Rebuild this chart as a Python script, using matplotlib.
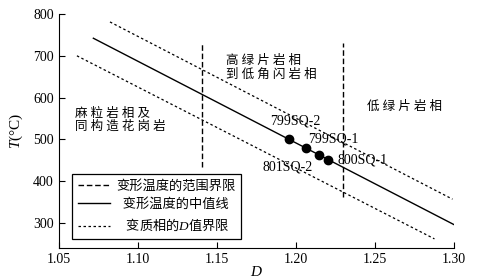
import matplotlib
matplotlib.use("Agg")
import matplotlib.pyplot as plt

plt.rcParams['font.family'] = ['Liberation Serif', 'Noto Sans CJK SC']
plt.rcParams['mathtext.fontset'] = 'custom'
plt.rcParams['mathtext.rm'] = 'Noto Sans CJK SC'
plt.rcParams['mathtext.it'] = 'Liberation Serif:italic'
plt.rcParams['mathtext.sf'] = 'Liberation Serif'

# lines (D, T)
median_D = [1.072, 1.300]
median_T = [742, 296]
upper_D = [1.0825, 1.299]
upper_T = [781, 357]
lower_D = [1.0616, 1.2876]
lower_T = [700, 262]

# range limits (vertical dashed)
vline_D = [1.1405, 1.2295]
vline_lo = [434, 362]
vline_hi = [733, 731]

samples = ['799SQ-2', '799SQ-1', '801SQ-2', '800SQ-1']
samp_D = [1.1955, 1.2062, 1.2145, 1.2201]
samp_T = [501, 479, 463, 451]
lab_D = [1.184, 1.208, 1.179, 1.226]
lab_T = [545, 500, 434, 451]

def spaced(s):
    return ' '.join(s)

fig = plt.figure(figsize=(4.8, 2.8), dpi=100)
ax = fig.add_axes([0.122, 0.114, 0.824, 0.836])

l1, = ax.plot([vline_D[0]] * 2, [vline_lo[0], vline_hi[0]], c='black', lw=1, ls=(0, (4, 2)))
ax.plot([vline_D[1]] * 2, [vline_lo[1], vline_hi[1]], c='black', lw=1, ls=(0, (4, 2)))
l2, = ax.plot(median_D, median_T, c='black', lw=1)
l3, = ax.plot(upper_D, upper_T, c='black', lw=0.9, ls=(0, (2, 2)))
ax.plot(lower_D, lower_T, c='black', lw=0.9, ls=(0, (2, 2)))

ax.scatter(samp_D, samp_T, s=36, c='black', zorder=3)
for s, x, y in zip(samples, lab_D, lab_T):
    ax.text(x, y, s, fontsize=10, va='center', ha='left')

ax.text(1.0604, 546, spaced('麻粒岩相及') + '\n' + spaced('同构造花岗岩'), fontsize=9,
        va='center', ha='left', linespacing=1.15)
ax.text(1.156, 671, spaced('高绿片岩相') + '\n' + spaced('到低角闪岩相'), fontsize=9,
        va='center', ha='left', linespacing=1.15)
ax.text(1.245, 578, spaced('低绿片岩相'), fontsize=9, va='center', ha='left')

leg = ax.legend([l1, l2, l3],
                ['变形温度的范围界限', '  变形温度的中值线', r'   $\mathrm{变质相的}D\mathrm{值界限}$'],
                loc='lower left', bbox_to_anchor=(0.034, 0.038), borderaxespad=0,
                fancybox=False, edgecolor='black', framealpha=1, fontsize=9.5,
                handlelength=2.4, handletextpad=0.5, labelspacing=0.45, borderpad=0.45)
leg.get_frame().set_linewidth(0.9)

ax.set_xlim(1.05, 1.30)
ax.set_ylim(240, 800)
ax.set_xticks([1.05, 1.10, 1.15, 1.20, 1.25, 1.30])
ax.set_xticklabels(['1.05', '1.10', '1.15', '1.20', '1.25', '1.30'])
ax.set_yticks([300, 400, 500, 600, 700, 800])
ax.tick_params(direction='in', labelsize=10, length=4)
ax.spines['top'].set_visible(False)
ax.spines['right'].set_visible(False)
ax.set_xlabel('$D$', fontsize=11, labelpad=-1)
ax.set_ylabel(r'$T\mathsf{(°C)}$', fontsize=11, labelpad=6)

fig.savefig('out.png', dpi=100)
